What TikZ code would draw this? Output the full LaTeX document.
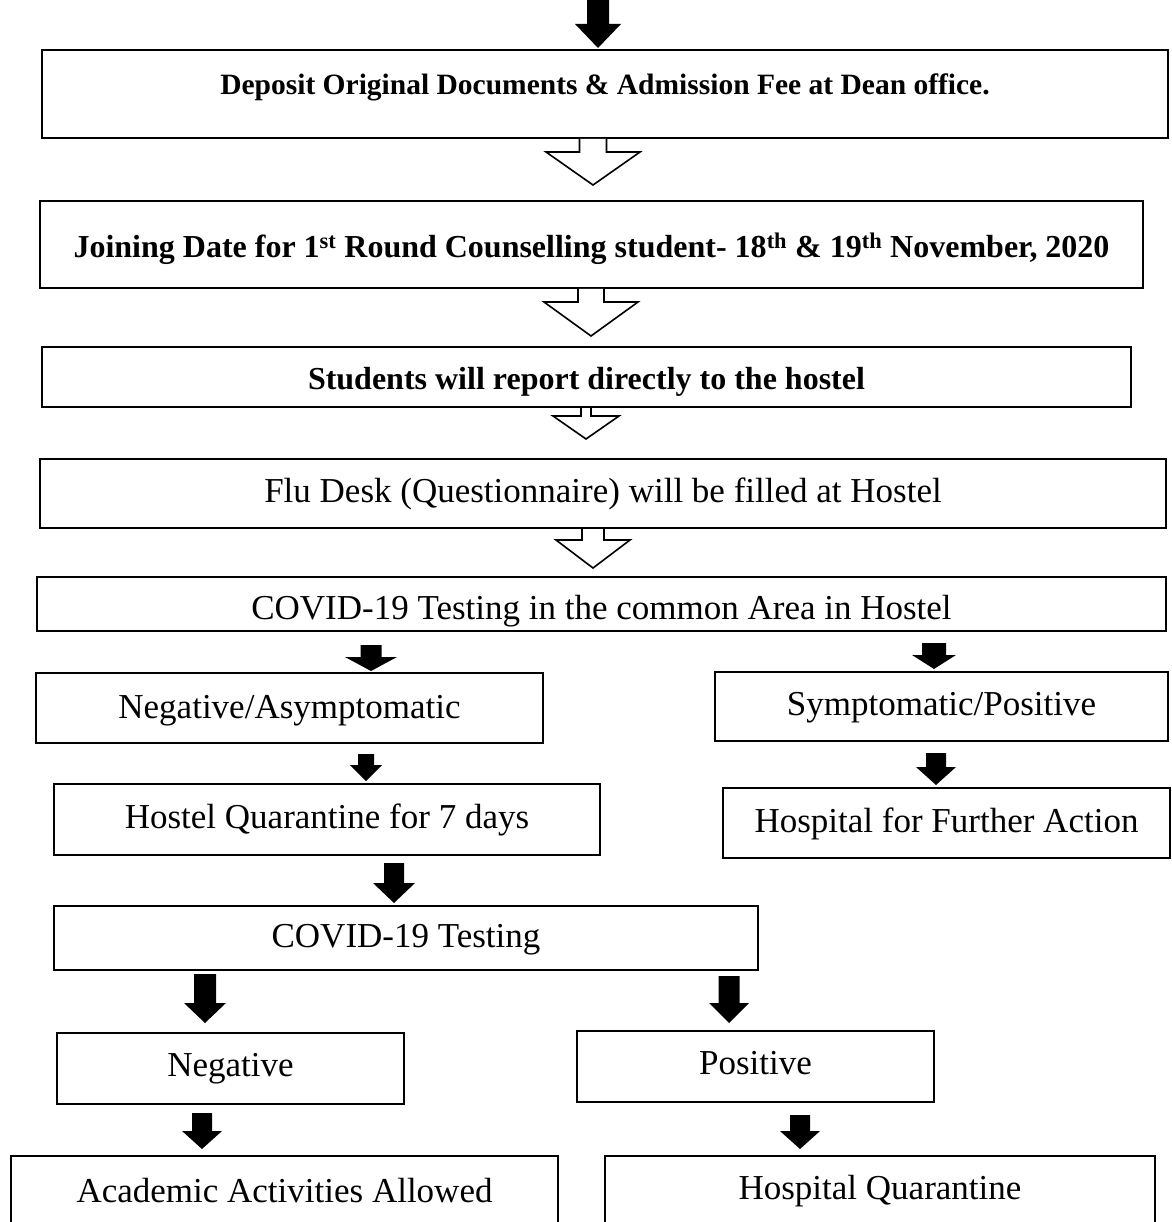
\documentclass[tikz,border=0pt]{standalone}
\usepackage{fontspec}
\setmainfont{Liberation Serif}
\usetikzlibrary{calc}

% block arrow: [style]{from}{tip}{shaft half}{head half}{head length}
\newcommand{\blockarrow}[6][]{%
  \path [#1] let \p1 = (#2), \p2 = (#3) in
    (\x2-#4,\y1) -- (\x2-#4,\y2+#6) -- (\x2-#5,\y2+#6) -- (\x2,\y2)
    -- (\x2+#5,\y2+#6) -- (\x2+#4,\y2+#6) -- (\x2+#4,\y1);}

\begin{document}
\begin{tikzpicture}
    [ x = 1pt, y = -1pt
    , box/.style =
      { draw, line width = 2pt, inner sep = 0pt }
    , boxsize/.style 2 args =
      { minimum width = #1, minimum height = #2 }
    , heavy/.style =
      { font = \fontsize{#1}{#1}\selectfont\bfseries }
    , plain/.style =
      { font = \fontsize{35}{40}\selectfont }
    , lift/.style =
      { text height = 0pt, text depth = #1 }
    , sink/.style =
      { text height = #1, text depth = 0pt }
    , hollow/.style =
      { draw, fill = white, line width = 1.6pt, line join = miter }
    , filled/.style =
      { fill = black }
    ]
    \useasboundingbox (0,0) rectangle (1171,1222);
    \clip (0,0) rectangle (1171,1222);

    % main column
    \node [box,heavy=29.5,sink=2pt] (deposit) [boxsize={1126pt}{88pt}] at (605,94)
      {Deposit Original Documents \& Admission Fee at Dean office.};
    \node [box,heavy=32,sink=26pt] (joining) [boxsize={1103pt}{87pt}] at (591.5,244.5)
      {Joining Date for 1\textsuperscript{st} Round Counselling student- 18\textsuperscript{th} \& 19\textsuperscript{th} November, 2020};
    \node [box,heavy=32,sink=25pt] (students) [boxsize={1089pt}{60pt}] at (586.5,377)
      {Students will report directly to the hostel};
    \node [box,plain,sink=17pt] (flu) [boxsize={1126pt}{69pt}] at (603,493.5)
      {Flu Desk (Questionnaire) will be filled at Hostel};
    \node [box,plain,sink=30pt] (common) [boxsize={1129pt}{54pt}] at (601.5,604)
      {COVID-19 Testing in the common Area in Hostel};

    % first split
    \node [box,plain,sink=20pt] (negasym) [boxsize={507pt}{70pt}] at (289.5,708)
      {Negative/Asymptomatic};
    \node [box,plain,sink=18pt] (sympos) [boxsize={453pt}{69pt}] at (941.5,706.5)
      {Symptomatic/Positive};
    \node [box,plain,sink=18pt] (hostelq) [boxsize={546pt}{71pt}] at (327,819.5)
      {Hostel Quarantine for 7 days};
    \node [box,plain,sink=18pt] (hospital) [boxsize={447pt}{70pt}] at (946.5,823)
      {Hospital for Further Action};
    \node [box,plain,sink=18pt] (retest) [boxsize={704pt}{64pt}] at (406,938)
      {COVID-19 Testing};

    % second split
    \node [box,plain,sink=16pt] (negative) [boxsize={347pt}{71pt}] at (230.5,1068.5)
      {Negative};
    \node [box,plain,sink=16pt] (positive) [boxsize={357pt}{71pt}] at (755.5,1066.5)
      {Positive};
    \node [box,plain,sink=8pt] (academic) [boxsize={547pt}{84pt}] at (284.5,1198)
      {Academic Activities Allowed};
    \node [box,plain,sink=3pt] (hospq) [boxsize={550pt}{84pt}] at (880,1198)
      {Hospital Quarantine};

    % arrow ends
    \coordinate (in0) at (598,0);
    \coordinate (in1) at (598,48);
    \coordinate (h1) at (593,185);
    \coordinate (h2) at (591,336);
    \coordinate (h3) at (586,439);
    \coordinate (h4) at (593,568);
    \coordinate (l1a) at (371,645);  \coordinate (l1b) at (371,671);
    \coordinate (r1a) at (934,643);  \coordinate (r1b) at (934,669);
    \coordinate (l2a) at (366,754);  \coordinate (l2b) at (366,781);
    \coordinate (r2a) at (936,753);  \coordinate (r2b) at (936,785);
    \coordinate (l3a) at (394,863);  \coordinate (l3b) at (394,903);
    \coordinate (l4a) at (205,974);  \coordinate (l4b) at (205,1023);
    \coordinate (r4a) at (729,976);  \coordinate (r4b) at (729,1023);
    \coordinate (l5a) at (202,1113); \coordinate (l5b) at (202,1149);
    \coordinate (r5a) at (800,1115); \coordinate (r5b) at (800,1149);

    \blockarrow[filled]{in0}{in1}{11pt}{23pt}{24pt}
    \blockarrow[hollow]{deposit.south}{h1}{13.5pt}{47pt}{33pt}
    \blockarrow[hollow]{joining.south}{h2}{13pt}{47pt}{34pt}
    \blockarrow[hollow]{students.south}{h3}{5pt}{33pt}{23pt}
    \blockarrow[hollow]{flu.south}{h4}{11pt}{37pt}{28pt}

    \blockarrow[filled]{l1a}{l1b}{10.5pt}{26pt}{14pt}
    \blockarrow[filled]{r1a}{r1b}{12pt}{22pt}{14pt}
    \blockarrow[filled]{l2a}{l2b}{8pt}{16pt}{16pt}
    \blockarrow[filled]{r2a}{r2b}{10pt}{20pt}{18pt}
    \blockarrow[filled]{l3a}{l3b}{10pt}{21pt}{20pt}
    \blockarrow[filled]{l4a}{l4b}{11pt}{21pt}{20pt}
    \blockarrow[filled]{r4a}{r4b}{10.5pt}{20pt}{20pt}
    \blockarrow[filled]{l5a}{l5b}{10pt}{20pt}{18pt}
    \blockarrow[filled]{r5a}{r5b}{10pt}{20pt}{18pt}
\end{tikzpicture}
\end{document}
